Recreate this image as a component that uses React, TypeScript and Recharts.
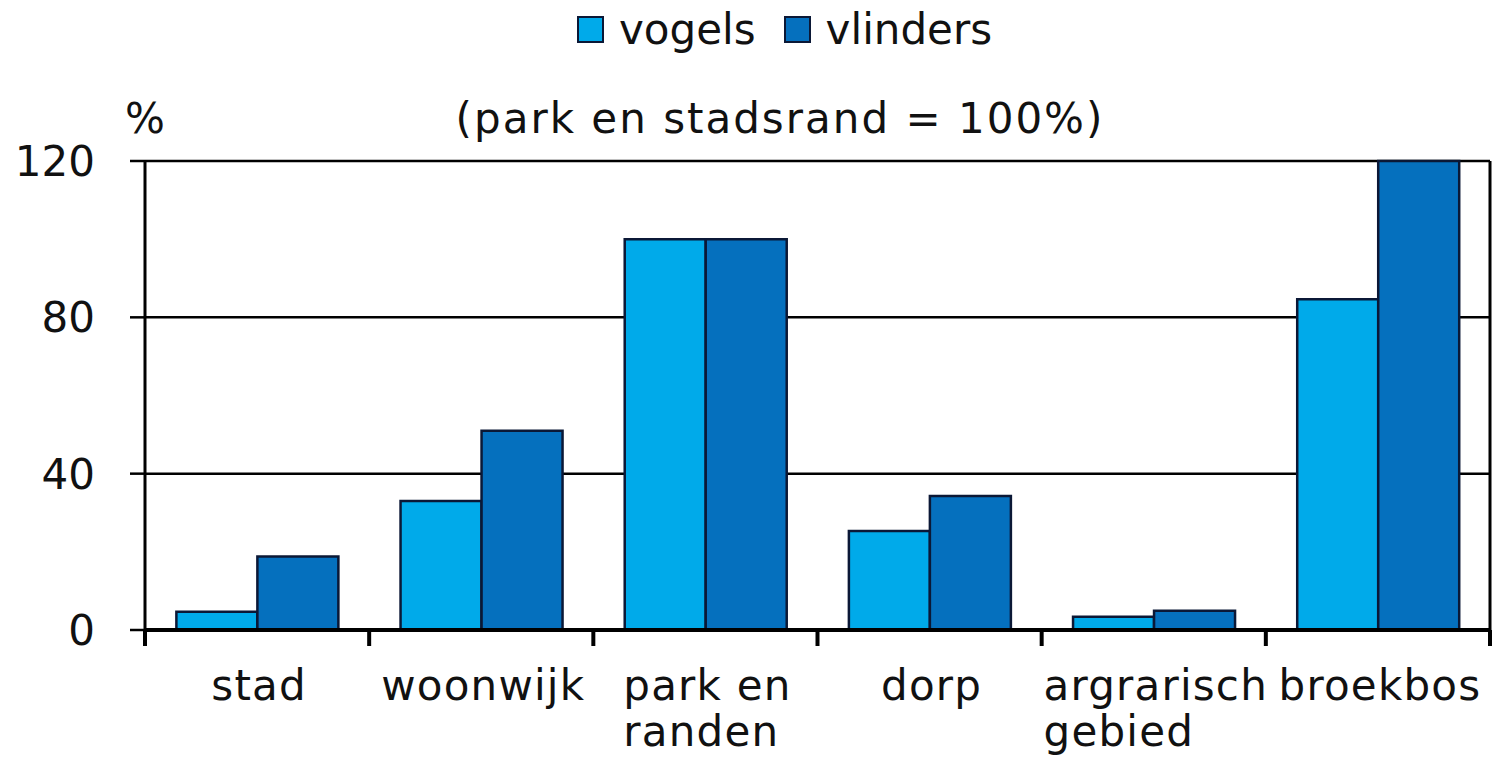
import React from 'react';
import {BarChart, Bar, XAxis, YAxis, CartesianGrid} from 'recharts';

const categories = ['stad', 'woonwijk', 'park en randen', 'dorp', 'argrarisch gebied', 'broekbos'];
const tickLabels = [['stad'], ['woonwijk'], ['park en', 'randen'], ['dorp'], ['argrarisch', 'gebied'], ['broekbos']];
const vogels = [4.7, 33, 100, 25.3, 3.4, 84.6];
const vlinders = [18.8, 51, 100, 34.3, 4.9, 120];
const yTicks = [0, 40, 80, 120];

const FONT = '"DejaVu Sans", Verdana, sans-serif';
const VOGELS_COLOR = '#00AAEA';
const VLINDERS_COLOR = '#0570BE';
const EDGE = '#0b1836';
const LABEL_SPACING = 1.2;

const data = categories.map((c, i) => ({name: c, vogels: vogels[i], vlinders: vlinders[i]}));

// width of a text line, to left-align the lines of a wrapped label
const measure = (s: string) => {
    const ctx = document.createElement('canvas').getContext('2d');
    if (!ctx) return s.length * 25;
    ctx.font = `42px ${FONT}`;
    return ctx.measureText(s).width + s.length * LABEL_SPACING;
};

const CategoryTick = (props: any) => {
    const {x, y, index, width, visibleTicksCount} = props;
    const bw = width / visibleTicksCount;
    const lines = tickLabels[index] || [];
    const blockW = Math.max(...lines.map(measure));
    const left = x + 2 - blockW / 2;
    return (
        <g>
            <line x1={x - bw / 2} x2={x - bw / 2} y1={y} y2={y + 16} stroke="#000" strokeWidth={4} />
            {index === visibleTicksCount - 1 && (
                <line x1={x + bw / 2} x2={x + bw / 2} y1={y} y2={y + 16} stroke="#000" strokeWidth={4} />
            )}
            <text x={left} y={y + 70} textAnchor="start" fontFamily={FONT} fontSize={42} letterSpacing={LABEL_SPACING} fill="#111">
                {lines.map((l, i) => (
                    <tspan key={i} x={left} dy={i === 0 ? 0 : 46}>{l}</tspan>
                ))}
            </text>
        </g>
    );
};

const LegendBox = ({color, label, gap}: {color: string; label: string; gap: number}) => (
    <span style={{display: 'inline-flex', alignItems: 'center', marginRight: gap}}>
        <span style={{width: 23, height: 23, background: color, border: `2px solid ${EDGE}`, marginRight: 15}} />
        <span>{label}</span>
    </span>
);

const App: React.FC = () => {
    return (
        <div style={{position: 'absolute', left: 0, top: 0, width: 1493, height: 757, background: '#fff', fontFamily: FONT}}>
            <div style={{position: 'absolute', left: 577, top: 4, whiteSpace: 'nowrap', fontSize: 42, color: '#111'}}>
                <LegendBox color={VOGELS_COLOR} label="vogels" gap={28} />
                <LegendBox color={VLINDERS_COLOR} label="vlinders" gap={0} />
            </div>
            <div style={{position: 'absolute', left: 125, top: 94, fontSize: 42, color: '#111'}}>%</div>
            <div style={{position: 'absolute', left: 0, width: 1560, top: 94, textAlign: 'center', fontSize: 42, letterSpacing: 2, color: '#111'}}>
                (park en stadsrand = 100%)
            </div>
            <BarChart
                width={1493}
                height={757}
                data={data}
                margin={{top: 161, right: 0, left: 0, bottom: 0}}
                barCategoryGap="14%"
                barGap={0}
            >
                <CartesianGrid vertical={false} stroke="#000" strokeWidth={2.5} />
                <XAxis
                    dataKey="name"
                    height={127}
                    axisLine={{stroke: '#000', strokeWidth: 4}}
                    tickLine={false}
                    tickSize={0}
                    tickMargin={0}
                    interval={0}
                    tick={<CategoryTick />}
                />
                <YAxis
                    width={145}
                    domain={[0, 120]}
                    ticks={yTicks}
                    axisLine={{stroke: '#000', strokeWidth: 3}}
                    tickLine={{stroke: '#000', strokeWidth: 2.5}}
                    tickSize={15}
                    tickMargin={35}
                    tick={{fontFamily: FONT, fontSize: 42, fill: '#111'}}
                />
                <YAxis
                    yAxisId="right"
                    orientation="right"
                    width={3}
                    domain={[0, 120]}
                    tick={false}
                    tickLine={false}
                    axisLine={{stroke: '#000', strokeWidth: 3}}
                />
                <Bar dataKey="vogels" fill={VOGELS_COLOR} stroke={EDGE} strokeWidth={2.5} isAnimationActive={false} />
                <Bar dataKey="vlinders" fill={VLINDERS_COLOR} stroke={EDGE} strokeWidth={2.5} isAnimationActive={false} />
            </BarChart>
        </div>
    );
};

export default App;
